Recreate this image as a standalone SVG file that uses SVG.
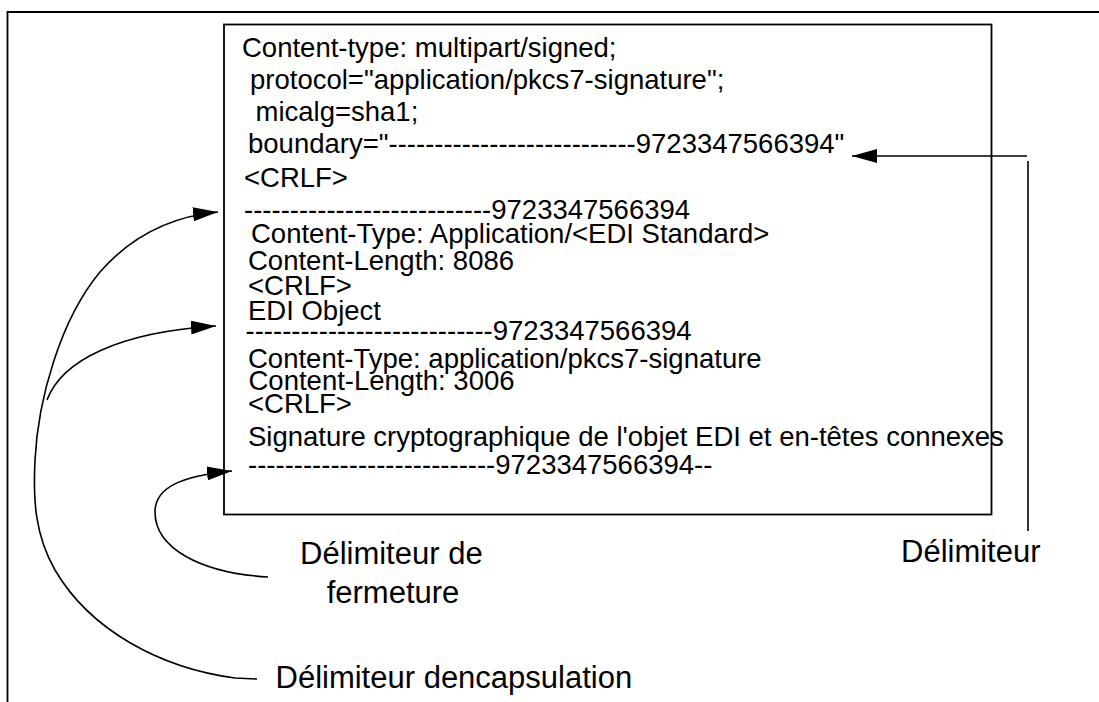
<svg xmlns="http://www.w3.org/2000/svg" width="1099" height="702" viewBox="0 0 1099 702">
  <defs>
    <marker id="arr" viewBox="0 0 25 14" refX="25" refY="7" markerUnits="userSpaceOnUse" markerWidth="25" markerHeight="14" orient="auto">
      <path d="M0,0 L25,7 L0,14 z" fill="#000"/>
    </marker>
    <style>
      .t { font-family: "Liberation Sans", Arial, sans-serif; font-size: 27.5px; fill: #000; }
      .lbl { font-family: "Liberation Sans", Arial, sans-serif; font-size: 31px; fill: #000; }
      .ln { fill: none; stroke: #000; stroke-width: 1.6; }
      .frame { fill: none; stroke: #000; stroke-width: 1.8; }
    </style>
  </defs>
  <rect width="1099" height="702" fill="#fff"/>
  <g id="frame">
    <path class="frame" d="M7.5,702 L7.5,12 L1099,12"/>
  </g>
  <g id="message">
    <rect class="frame" x="224" y="24.5" width="767.5" height="490"/>
    <text class="t" x="242" y="56.5">Content-type: multipart/signed;</text>
    <text class="t" x="250" y="88.5">protocol="application/pkcs7-signature";</text>
    <text class="t" x="255.5" y="120.5">micalg=sha1;</text>
    <text class="t" x="248" y="153">boundary="---------------------------9723347566394"</text>
    <text class="t" x="244" y="187">&lt;CRLF&gt;</text>
    <text class="t" x="244" y="219">---------------------------9723347566394</text>
    <text class="t" x="251" y="243">Content-Type: Application/&lt;EDI Standard&gt;</text>
    <text class="t" x="248" y="270">Content-Length: 8086</text>
    <text class="t" x="248" y="295">&lt;CRLF&gt;</text>
    <text class="t" x="248" y="320">EDI Object</text>
    <text class="t" x="245.5" y="340">---------------------------9723347566394</text>
    <text class="t" x="248" y="368">Content-Type: application/pkcs7-signature</text>
    <text class="t" x="248.5" y="390">Content-Length: 3006</text>
    <text class="t" x="248" y="413">&lt;CRLF&gt;</text>
    <text class="t" x="248" y="446">Signature cryptographique de l'objet EDI et en-têtes connexes</text>
    <text class="t" x="248" y="474">---------------------------9723347566394--</text>
  </g>
  <g id="label-delimiteur">
    <text class="lbl" x="901" y="562">Délimiteur</text>
  </g>
  <g id="label-fermeture">
    <text class="lbl" x="300" y="564">Délimiteur de</text>
    <text class="lbl" x="393" y="603" text-anchor="middle">fermeture</text>
  </g>
  <g id="label-encapsulation">
    <text class="lbl" x="275.5" y="688">Délimiteur dencapsulation</text>
  </g>
  <g id="connectors">
    <path class="ln" d="M1027,156 L852,156" marker-end="url(#arr)"/>
    <path class="ln" d="M1028,161 L1028,531"/>
    <path class="ln" d="M257,679 L235,678 C160,668 90,630 55,570 C35,535 33,500 35,460 C38,400 60,320 100,272 C135,232 175,216 218,212" marker-end="url(#arr)"/>
    <path class="ln" d="M47,400 C62,360 120,332 216,326" marker-end="url(#arr)"/>
    <path class="ln" d="M268,577 C200,573 155,548 155,512 C155,488 180,476 232,471" marker-end="url(#arr)"/>
  </g>
</svg>
